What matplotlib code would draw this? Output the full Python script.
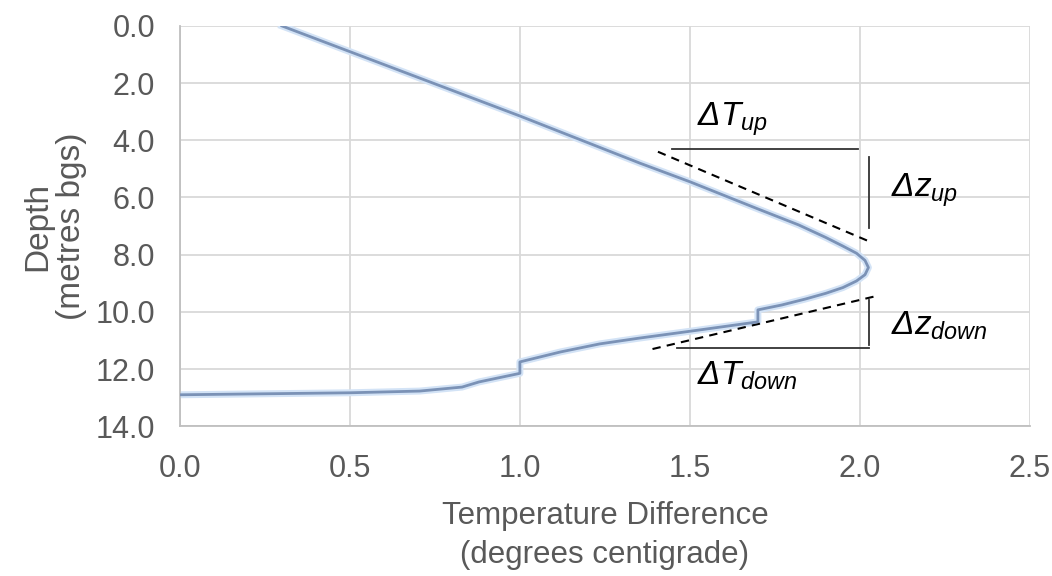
import matplotlib
matplotlib.use("Agg")
import matplotlib.pyplot as plt

# data (temperature difference vs depth)
temp_diff = [0.30, 1.00, 1.353, 1.50, 1.70, 1.82, 1.90, 1.95, 1.99, 2.015, 2.025, 2.015,
             1.99, 1.95, 1.90, 1.84, 1.77, 1.70, 1.70, 1.53, 1.35, 1.235, 1.12, 1.00, 1.00,
             0.94, 0.88, 0.83, 0.705, 0.50, 0.0]
depth = [0.0, 3.15, 4.80, 5.45, 6.40, 6.96, 7.40, 7.70, 7.95, 8.20, 8.45, 8.70,
         8.92, 9.15, 9.35, 9.55, 9.76, 9.93, 10.35, 10.63, 10.92, 11.12, 11.40, 11.75, 12.15,
         12.30, 12.45, 12.63, 12.77, 12.83, 12.90]

xticks = [0.0, 0.5, 1.0, 1.5, 2.0, 2.5]
yticks = [0, 2, 4, 6, 8, 10, 12, 14]

plt.rcParams['font.family'] = ['Liberation Sans', 'DejaVu Sans']
plt.rcParams['mathtext.fontset'] = 'custom'
plt.rcParams['mathtext.it'] = 'Liberation Sans:italic'
plt.rcParams['mathtext.rm'] = 'Liberation Sans:italic'

fig = plt.figure(figsize=(10.52, 5.76), dpi=100)
ax = fig.add_axes([0.171, 0.260, 0.808, 0.695])

ax.plot(temp_diff, depth, color='#d3e3f6', lw=5, solid_joinstyle='round', zorder=2)
ax.plot(temp_diff, depth, color='#7b92b6', lw=2, solid_joinstyle='round', zorder=3)

# annotation lines
ax.plot([1.447, 1.994], [4.30, 4.30], color='#333333', lw=1.3)
ax.plot([1.406, 2.03], [4.40, 7.55], color='black', lw=1.5, ls=(0, (4, 3)))
ax.plot([2.026, 2.026], [4.58, 7.07], color='#333333', lw=1.3)
ax.plot([1.39, 2.04], [11.30, 9.47], color='black', lw=1.5, ls=(0, (4, 3)))
ax.plot([1.462, 2.026], [11.26, 11.26], color='#333333', lw=1.3)
ax.plot([2.026, 2.026], [9.58, 11.15], color='#333333', lw=1.3)

lbl = dict(fontsize=24, color='black', va='center', ha='left')
ax.text(1.52, 3.25, r'$\Delta T_{up}$', **lbl)
ax.text(2.09, 5.75, r'$\Delta z_{up}$', **lbl)
ax.text(2.09, 10.5, r'$\Delta z_{down}$', **lbl)
ax.text(1.52, 12.25, r'$\Delta T_{down}$', **lbl)

ax.set_xlim(0, 2.5)
ax.set_ylim(14, 0)
ax.set_xticks(xticks)
ax.set_yticks(yticks)
ax.set_xticklabels([f"{v:.1f}" for v in xticks])
ax.set_yticklabels([f"{v:.1f}" for v in yticks])
ax.tick_params(length=0, labelsize=22, labelcolor='#595959')
ax.tick_params(axis='y', pad=18)
ax.tick_params(axis='x', pad=20)
ax.grid(True, color='#d9d9d9', lw=1.3)
ax.set_axisbelow(True)
for s in ['top', 'right']:
    ax.spines[s].set_visible(False)
for s in ['left', 'bottom']:
    ax.spines[s].set_color('#bfbfbf')
    ax.spines[s].set_linewidth(1.3)

ax.set_xlabel("Temperature Difference\n(degrees centigrade)", fontsize=22.5, color='#595959',
              labelpad=12, linespacing=1.4)
ax.set_ylabel("Depth\n(metres bgs)", fontsize=24, color='#595959', labelpad=6, linespacing=1.1)

fig.savefig("out.png", dpi=100)
